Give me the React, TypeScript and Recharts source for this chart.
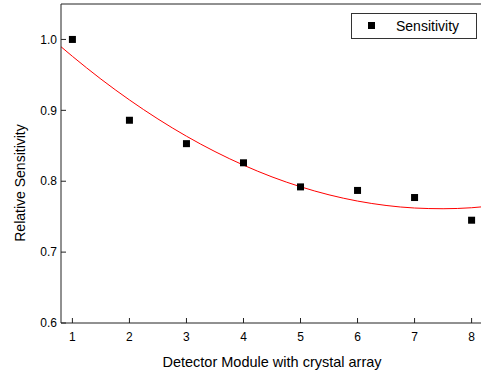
import React from "react";
import {
  ComposedChart,
  XAxis,
  YAxis,
  Scatter,
  Line,
  ReferenceLine,
  Label,
} from "recharts";

const modules = [1, 2, 3, 4, 5, 6, 7, 8];
const sensitivity = [1.0, 0.886, 0.853, 0.826, 0.792, 0.787, 0.777, 0.745];

const fitX = [0.8, 1, 1.5, 2, 2.5, 3, 3.5, 4, 4.5, 5, 5.5, 6, 6.5, 7, 7.5, 8, 8.2];
const fitY = [0.9897, 0.9762, 0.9441, 0.9147, 0.8878, 0.8635, 0.8418, 0.8227, 0.8061, 0.7922, 0.7808, 0.772, 0.7658, 0.7622, 0.7612, 0.7626, 0.764];

const xTicks = [1, 2, 3, 4, 5, 6, 7, 8];
const yTicks = [0.6, 0.7, 0.8, 0.9, 1.0];

const seriesName = "Sensitivity";

const pointData = modules.map((x, i) => ({ x, y: sensitivity[i] }));
const fitData = fitX.map((x, i) => ({ x, fit: fitY[i] }));

const FONT = "Liberation Sans, Arial, sans-serif";
const AXIS = "#222";

const SquareMarker = (props: any) => {
  const { cx, cy } = props;
  return <rect x={cx - 3.5} y={cy - 3.5} width={7} height={7} fill="#000" />;
};

const LegendBox = () => (
  <svg
    width={127}
    height={26}
    style={{ display: "block", position: "absolute", left: 351, top: 13 }}
  >
    <rect x={0.5} y={0.5} width={125} height={25} fill="#fff" stroke="#333" strokeWidth={1} />
    <rect x={17} y={9} width={7} height={7} fill="#000" />
    <text x={45} y={18} fontFamily={FONT} fontSize={14} fill="#000">
      {seriesName}
    </text>
  </svg>
);

export default function App() {
  return (
    <div
      style={{
        position: "absolute",
        left: 0,
        top: 0,
        width: 481,
        height: 373,
        overflow: "hidden",
        background: "#fff",
      }}
    >
      <ComposedChart
        width={490}
        height={373}
        margin={{ top: 4, right: 7, bottom: 0, left: 0 }}
      >
        <XAxis
          type="number"
          dataKey="x"
          domain={[0.8, 8.2]}
          ticks={xTicks}
          allowDataOverflow
          stroke={AXIS}
          tickSize={5}
          tick={{ fill: "#000", fontSize: 12, fontFamily: FONT, dy: 2 }}
          tickLine={{ stroke: AXIS, transform: "translate(0,-5)" }}
          height={50}
        >
          <Label
            content={() => (
              <text
                x={272}
                y={367}
                textAnchor="middle"
                fontSize={14.5}
                fontFamily={FONT}
                fill="#000"
              >
                Detector Module with crystal array
              </text>
            )}
          />
        </XAxis>
        <YAxis
          type="number"
          domain={[0.6, 1.05]}
          ticks={yTicks}
          allowDataOverflow
          width={61}
          stroke={AXIS}
          tickSize={5}
          tickFormatter={(v: number) => v.toFixed(1)}
          tick={{ fill: "#000", fontSize: 12, fontFamily: FONT, dx: 3 }}
          tickLine={{ stroke: AXIS, transform: "translate(5,0)" }}
        >
          <Label
            content={() => (
              <text
                x={25}
                y={183}
                transform="rotate(-90 25 183)"
                textAnchor="middle"
                fontSize={14}
                fontFamily={FONT}
                fill="#000"
              >
                Relative Sensitivity
              </text>
            )}
          />
        </YAxis>
        <ReferenceLine y={1.05} stroke={AXIS} strokeWidth={1} ifOverflow="extendDomain" />
        <ReferenceLine x={8.2} stroke={AXIS} strokeWidth={1} ifOverflow="extendDomain" />
        <Line
          data={fitData}
          dataKey="fit"
          type="monotone"
          stroke="#ff0000"
          strokeWidth={1}
          dot={false}
          activeDot={false}
          isAnimationActive={false}
          legendType="none"
        />
        <Scatter
          data={pointData}
          dataKey="y"
          name={seriesName}
          shape={SquareMarker}
          isAnimationActive={false}
        />
      </ComposedChart>
      <LegendBox />
    </div>
  );
}
